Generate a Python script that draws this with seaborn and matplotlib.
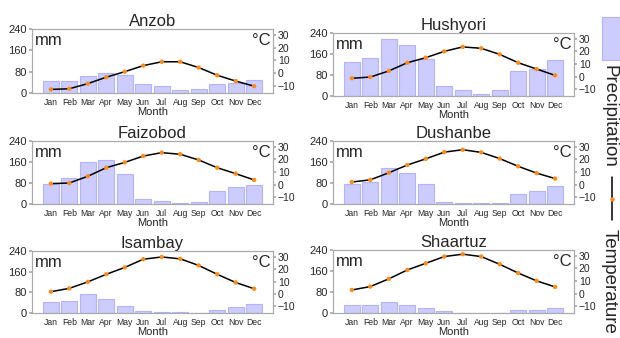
import matplotlib
matplotlib.use("Agg")
import matplotlib.pyplot as plt
import seaborn as sns
import pandas as pd
import numpy as np
from matplotlib.patches import Rectangle
from matplotlib.lines import Line2D

months = ["Jan", "Feb", "Mar", "Apr", "May", "Jun", "Jul", "Aug", "Sep", "Oct", "Nov", "Dec"]
stations = ["Anzob", "Hushyori", "Faizobod", "Dushanbe", "Isambay", "Shaartuz"]

precip_anzob = [44, 44, 64, 75, 67, 32, 27, 13, 14, 33, 38, 47]
temp_anzob = [-12.5, -12, -8, -3, 1.3, 6, 9, 9, 4.5, -1.5, -6, -10]

precip_hushyori = [131, 144, 218, 195, 140, 38, 24, 8, 22, 95, 101, 136]
temp_hushyori = [-1.3, -0.3, 4.5, 11, 15, 20, 23.5, 22.4, 17.6, 11, 6, 1]

precip_faizobod = [78, 98, 161, 167, 114, 20, 10, 4, 9, 48, 64, 73]
temp_faizobod = [0.8, 1.3, 6.6, 13.4, 17.6, 22.6, 25.3, 24, 19.5, 13.4, 8.7, 3.7]

precip_dushanbe = [77, 84, 137, 117, 75, 9, 5, 2.5, 5, 37, 48, 68]
temp_dushanbe = [2.1, 3.8, 9.4, 15.5, 20.4, 25.7, 27.6, 25.5, 20.6, 14.5, 9.1, 4.8]

precip_isambay = [41, 47, 73, 56, 28, 8, 5, 2.5, 0.5, 11.5, 23, 36]
temp_isambay = [1.8, 4.5, 9.7, 15.8, 21.3, 27.9, 29.7, 28.2, 22.9, 15.8, 9.2, 4.2]

precip_shaartuz = [29, 29, 43, 29, 18, 6, 1, 0, 0, 11.5, 11.5, 20]
temp_shaartuz = [2.9, 5.6, 11.7, 18.7, 24, 29.3, 31.2, 29.3, 23.2, 16.3, 10.1, 5.3]

precip_all = [precip_anzob, precip_hushyori, precip_faizobod, precip_dushanbe, precip_isambay, precip_shaartuz]
temp_all = [temp_anzob, temp_hushyori, temp_faizobod, temp_dushanbe, temp_isambay, temp_shaartuz]

sns.set_theme(style="white")
plt.rcParams['font.family'] = ['Liberation Sans', 'DejaVu Sans']

W, H = 620, 338
fig = plt.figure(figsize=(W / 100, H / 100), dpi=100)

# axes boxes in pixels: (left, top, right, bottom)
boxes = [
    (32, 29, 273, 93),
    (333, 33, 574, 96),
    (32, 141, 273, 204),
    (333, 141, 574, 204),
    (32, 251, 273, 313),
    (333, 250, 574, 313),
]

BAR_FACE = "#ccccff"
BAR_EDGE = "#b4b4fa"
SPINE = "#aaaaaa"
ORANGE = "#ff8c1a"
XLIM = (-1.02, 12.02)

for name, pr, tp, (l, t, r, b) in zip(stations, precip_all, temp_all, boxes):
    ax = fig.add_axes([l / W, 1 - b / H, (r - l) / W, (b - t) / H])
    df = pd.DataFrame({"Month": months, "idx": np.arange(12), "Precipitation": pr, "Temperature": tp})
    sns.barplot(data=df, x="Month", y="Precipitation", ax=ax, color=BAR_FACE,
                edgecolor=BAR_EDGE, linewidth=0.8, width=0.85, saturation=1)
    ax.set_ylim(0, 240)
    ax.set_yticks([0, 80, 160, 240])
    ax.set_xlim(*XLIM)
    ax.set_ylabel("")
    ax.set_xlabel("Month", fontsize=8, labelpad=0)
    ax.tick_params(axis="x", labelsize=6.2, length=2, color=SPINE, pad=1.5)
    ax.tick_params(axis="y", labelsize=8, length=2.5, color=SPINE, pad=1)
    for s in ax.spines.values():
        s.set_color(SPINE)
        s.set_linewidth(0.8)
    ax.set_title(name, fontsize=12, pad=2)
    ax.text(0.012, 0.93, "mm", transform=ax.transAxes, fontsize=12, va="top", ha="left")
    ax.text(0.99, 0.93, "°C", transform=ax.transAxes, fontsize=12, va="top", ha="right")

    ax2 = ax.twinx()
    sns.lineplot(data=df, x="idx", y="Temperature", ax=ax2, color="black", linewidth=1.1)
    sns.scatterplot(data=df, x="idx", y="Temperature", ax=ax2, color=ORANGE, s=10,
                    edgecolor="none", zorder=5)
    ax2.set_ylim(-15.3, 34.5)
    ax2.set_yticks([-10, 0, 10, 20, 30])
    ax2.set_yticklabels(["\u221210", "0", "10", "20", "30"])
    ax2.set_ylabel("")
    ax2.set_xlabel("")
    ax2.set_xlim(*XLIM)
    ax2.tick_params(axis="y", labelsize=7.5, length=2.5, color=SPINE, pad=1)
    for s in ax2.spines.values():
        s.set_color(SPINE)
        s.set_linewidth(0.8)

# legend drawn vertically on the right edge
def fx(px):
    return px / W

def fy(py):
    return 1 - py / H

fig.patches.append(Rectangle((fx(602), fy(60)), fx(621) - fx(602), fy(17) - fy(60),
                             transform=fig.transFigure, facecolor=BAR_FACE,
                             edgecolor=BAR_EDGE, linewidth=0.8))
fig.text(fx(605), fy(65), "Precipitation", rotation=-90, rotation_mode="anchor",
         fontsize=13.5, ha="left", va="baseline")
fig.lines.append(Line2D([fx(612), fx(612)], [fy(177), fy(220)], transform=fig.transFigure,
                        color="black", linewidth=1.1))
fig.lines.append(Line2D([fx(612)], [fy(199)], transform=fig.transFigure, marker="o",
                        markersize=3.2, color=ORANGE, markeredgecolor="none", linestyle="none"))
fig.text(fx(605), fy(229), "Temperature", rotation=-90, rotation_mode="anchor",
         fontsize=13.5, ha="left", va="baseline")

fig.savefig("out.png", dpi=100)
